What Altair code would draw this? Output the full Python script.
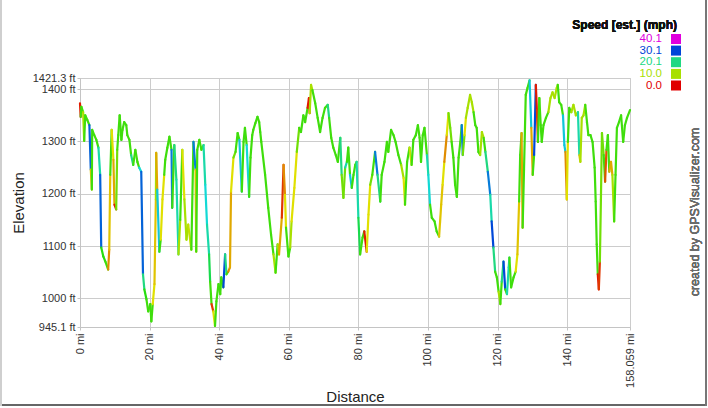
import altair as alt
import pandas as pd

# Distance along route (mi)
dist = [0.0,0.2,0.4,0.9,1.2,1.5,2.1,2.7,3.1,3.4,3.5,4.1,4.7,5.3,5.8,6.1,6.7,7.3,8.1,8.4,
        8.7,9.1,9.6,9.9,10.4,10.7,11.0,11.4,11.9,12.2,12.7,13.3,13.6,14.2,14.7,15.3,15.9,16.5,17.0,17.6,
        18.1,18.5,19.1,19.6,20.2,20.5,20.9,21.4,21.8,21.9,22.2,22.8,23.2,23.7,24.2,24.5,25.1,25.7,26.3,26.5,
        27.1,27.7,28.3,28.8,29.4,30.0,30.6,31.1,32.0,32.6,33.2,33.4,33.7,34.3,34.9,35.5,36.0,36.5,37.1,37.4,
        37.8,38.3,38.8,39.2,39.8,40.3,40.6,41.2,41.7,42.1,42.6,43.1,43.4,44.1,44.7,45.3,45.8,46.5,47.0,47.4,
        47.9,48.6,49.0,49.5,49.8,50.4,51.0,51.5,51.8,52.1,53.2,54.1,54.9,55.6,56.2,56.8,57.2,58.0,58.5,58.9,
        59.2,59.9,60.4,60.8,61.6,62.3,63.0,63.5,64.2,64.7,65.4,65.8,66.0,66.4,66.8,67.6,68.3,69.0,69.7,70.4,
        71.2,71.6,72.2,72.8,73.5,74.1,74.8,75.2,75.7,76.2,76.7,77.1,77.6,78.1,78.6,79.1,79.5,80.0,80.5,81.2,
        81.7,82.4,82.9,83.4,84.0,84.8,85.5,86.3,86.7,87.5,88.2,88.6,89.4,90.1,90.7,91.5,92.3,93.0,93.4,94.0,
        94.7,95.3,95.8,96.5,97.1,97.6,98.0,98.5,99.0,99.7,100.1,100.6,101.1,101.9,102.5,103.2,103.8,104.2,104.7,105.4,
        105.9,106.4,106.8,107.3,107.8,108.3,108.8,109.3,109.7,110.0,110.5,110.9,111.4,112.1,112.6,113.1,113.6,114.0,114.5,115.0,
        115.5,116.0,116.5,117.2,117.9,118.3,118.8,119.3,119.8,120.3,120.8,121.2,121.7,122.2,122.7,123.2,123.4,123.9,124.6,125.2,
        125.7,126.2,126.5,126.9,127.2,127.6,128.1,128.6,129.2,129.7,130.1,130.5,131.0,131.3,131.6,132.0,132.4,132.7,133.2,133.9,
        134.6,135.2,135.8,136.4,137.0,137.3,137.7,138.3,138.8,139.2,139.5,139.9,140.2,140.6,141.2,141.8,142.5,143.1,143.5,143.8,
        144.2,144.7,145.2,145.7,146.1,146.7,147.3,147.9,148.2,148.5,148.8,149.1,149.4,149.7,150.0,150.5,150.9,151.3,151.7,152.1,
        152.6,153.0,153.5,153.9,154.3,154.9,155.5,156.1,156.6,157.2,158.059]

# Elevation (ft)
elev = [1373,1347,1366,1356,1301,1350,1341,1331,1246,1208,1322,1312,1303,1288,1236,1097,1080,1070,1055,1093,
        1236,1322,1265,1179,1170,1284,1312,1350,1303,1322,1337,1331,1312,1303,1274,1255,1284,1261,1250,1242,
        1046,1017,998,975,989,956,989,1027,1189,1278,1208,1089,1112,1189,1236,1265,1288,1309,1284,1173,
        1293,1227,1084,1150,1284,1189,1112,1141,1093,1299,1246,1089,1284,1303,1284,1293,1217,1141,1084,1032,
        989,975,947,994,1027,1008,1040,1021,1084,1046,1051,1059,1204,1269,1280,1316,1303,1204,1299,1326,
        1293,1194,1269,1312,1322,1335,1347,1337,1318,1299,1236,1173,1122,1084,1049,1103,1084,1154,1255,1198,
        1135,1080,1097,1147,1211,1280,1326,1318,1350,1337,1364,1383,1354,1408,1398,1373,1345,1318,1345,1364,
        1370,1345,1307,1288,1274,1261,1307,1236,1192,1250,1261,1288,1236,1211,1236,1255,1261,1154,1084,1116,
        1128,1089,1160,1217,1236,1280,1236,1185,1236,1261,1299,1280,1322,1312,1299,1274,1255,1230,1179,1261,
        1288,1255,1303,1312,1331,1307,1261,1312,1326,1274,1236,1179,1154,1147,1128,1118,1179,1217,1261,1312,
        1354,1326,1299,1269,1217,1194,1269,1299,1331,1274,1312,1345,1364,1389,1375,1356,1331,1326,1280,1274,
        1318,1307,1280,1242,1198,1147,1097,1051,1040,1013,989,1032,1070,1017,1008,1059,1078,1021,1040,1051,
        1084,1185,1274,1316,1135,1246,1389,1402,1417,1326,1236,1274,1408,1360,1299,1383,1331,1299,1331,1345,
        1356,1383,1394,1383,1402,1408,1375,1370,1350,1293,1280,1189,1299,1364,1356,1370,1350,1356,1274,1261,
        1345,1350,1370,1337,1312,1312,1299,1250,1185,1103,1046,1017,1070,1189,1316,1274,1223,1284,1312,1242,
        1261,1236,1147,1236,1326,1337,1350,1299,1331,1345,1360]

# Estimated speed (mph)
speed = [14,1,14,14,10,14,14,14,29,7,14,14,14,14,22,29,15,15,14,5,
         7,14,8,6,1,12,14,14,14,14,14,14,14,14,14,20,14,14,14,24,
         29,20,15,14,14,14,14,8,7,10,6,25,14,8,8,14,14,14,14,28,
         14,20,22,10,14,8,10,10,9,14,28,7,14,14,14,14,22,24,22,18,
         14,2,8,14,14,14,14,14,30,20,14,5,6,8,12,14,14,25,14,14,
         14,24,14,14,14,14,14,14,14,14,14,14,14,14,10,14,10,6,2,5,
         8,14,14,10,8,8,12,14,14,14,14,1,1,10,10,14,14,14,14,14,
         14,20,14,14,14,14,14,20,12,12,22,14,14,25,14,14,14,22,18,14,
         14,1,8,8,12,14,28,20,14,14,14,14,14,14,14,14,14,10,8,14,
         14,9,14,14,14,14,14,14,14,14,22,24,14,14,14,14,7,7,8,5,
         8,12,12,14,14,14,14,14,14,28,12,8,10,10,10,10,14,14,14,14,
         10,10,14,20,28,22,30,20,14,14,10,14,20,30,14,22,22,14,14,14,
         8,7,14,14,6,14,14,14,14,25,6,14,30,1,2,14,14,14,14,14,
         14,10,10,10,10,10,14,14,14,25,25,5,8,14,14,10,10,10,22,7,
         10,10,10,14,14,14,14,14,14,14,14,1,2,12,12,12,14,3,14,14,
         6,6,10,14,14,14,14,14,14,14,14]

legend_values = [40.1, 30.1, 20.1, 10.0, 0.0]
x_ticks = [0, 20, 40, 60, 80, 100, 120, 140, 158.059]
y_ticks = [945.1, 1000, 1100, 1200, 1300, 1400, 1421.3]

seg = pd.DataFrame({
    "x": dist[:-1], "y": elev[:-1],
    "x2": dist[1:], "y2": elev[1:],
    "speed": speed[1:],
})
leg = pd.DataFrame({"lv": legend_values})

FONT = "Liberation Sans"
color_scale = alt.Scale(domain=[0, 10, 20, 30, 40],
                        range=["#e00000", "#a8e000", "#20d880", "#0048d8", "#e000e0"],
                        interpolate="hsl")

profile = alt.Chart(seg).mark_rule(strokeWidth=2.2, strokeCap="round").encode(
    x=alt.X("x:Q", scale=alt.Scale(domain=[0, 158.059], nice=False, zero=False),
            axis=alt.Axis(values=x_ticks, labelExpr="datum.value + ' mi'", labelAngle=270,
                          labelFlush=False, labelOverlap=False, title="Distance",
                          titlePadding=2, tickSize=3, labelPadding=3)),
    y=alt.Y("y:Q", scale=alt.Scale(domain=[945.1, 1421.3], nice=False, zero=False),
            axis=alt.Axis(values=y_ticks, labelExpr="datum.value + ' ft'",
                          labelFlush=False, labelOverlap=False, title="Elevation",
                          titlePadding=6, tickSize=3, labelPadding=2)),
    x2="x2:Q", y2="y2:Q",
    color=alt.Color("speed:Q", scale=color_scale, legend=None),
)

leg_y = alt.Y("lv:Q", scale=alt.Scale(domain=[40.1, 0], range=[-39, 7.5]), axis=None)
leg_text = alt.Chart(leg).mark_text(align="right", baseline="middle", font=FONT, fontSize=11.5).encode(
    x=alt.value(582), y=leg_y, text=alt.Text("lv:Q", format=".1f"),
    color=alt.Color("lv:Q", scale=color_scale, legend=None))
leg_sq = alt.Chart(leg).mark_square(size=100, opacity=1).encode(
    x=alt.value(596), y=leg_y,
    color=alt.Color("lv:Q", scale=color_scale, legend=None))
leg_title = alt.Chart(leg).mark_text(align="right", baseline="middle", font=FONT, fontSize=12,
                                     fontWeight="bold", color="#111").encode(
    x=alt.value(597), y=alt.value(-53), text=alt.value("Speed [est.] (mph)"))
credit = alt.Chart(leg).mark_text(align="center", baseline="middle", font=FONT, fontSize=12.5,
                                  angle=270, color="#6a6a6a").encode(
    x=alt.value(615), y=alt.value(134), text=alt.value("created by GPSVisualizer.com"))

frame_b = alt.Chart(leg).mark_rule(color="#666", strokeWidth=2).encode(
    x=alt.value(-80), x2=alt.value(627), y=alt.value(327))
frame_r = alt.Chart(leg).mark_rule(color="#777", strokeWidth=2).encode(
    x=alt.value(626), y=alt.value(-78), y2=alt.value(328))
frame_l = alt.Chart(leg).mark_rule(color="#cfcfcf", strokeWidth=2).encode(
    x=alt.value(-79), y=alt.value(-78), y2=alt.value(328))

chart = alt.layer(profile, leg_text, leg_sq, leg_title, credit, frame_b, frame_r, frame_l).resolve_scale(
    y="independent"
).properties(
    width=550, height=249,
    autosize=alt.AutoSizeParams(type="none"),
    padding={"left": 80, "top": 78, "right": 78, "bottom": 81},
    background="white",
).configure_view(stroke="#c4c4c4", strokeWidth=1).configure_axis(
    gridColor="#cccccc", gridWidth=1, domainColor="#c4c4c4", tickColor="#c4c4c4",
    labelFont=FONT, labelFontSize=11, labelColor="#333333",
    titleFont=FONT, titleFontSize=15, titleFontWeight="normal", titleColor="#222222",
)

chart.save("out.html", embed_options={"renderer": "svg", "actions": False})
